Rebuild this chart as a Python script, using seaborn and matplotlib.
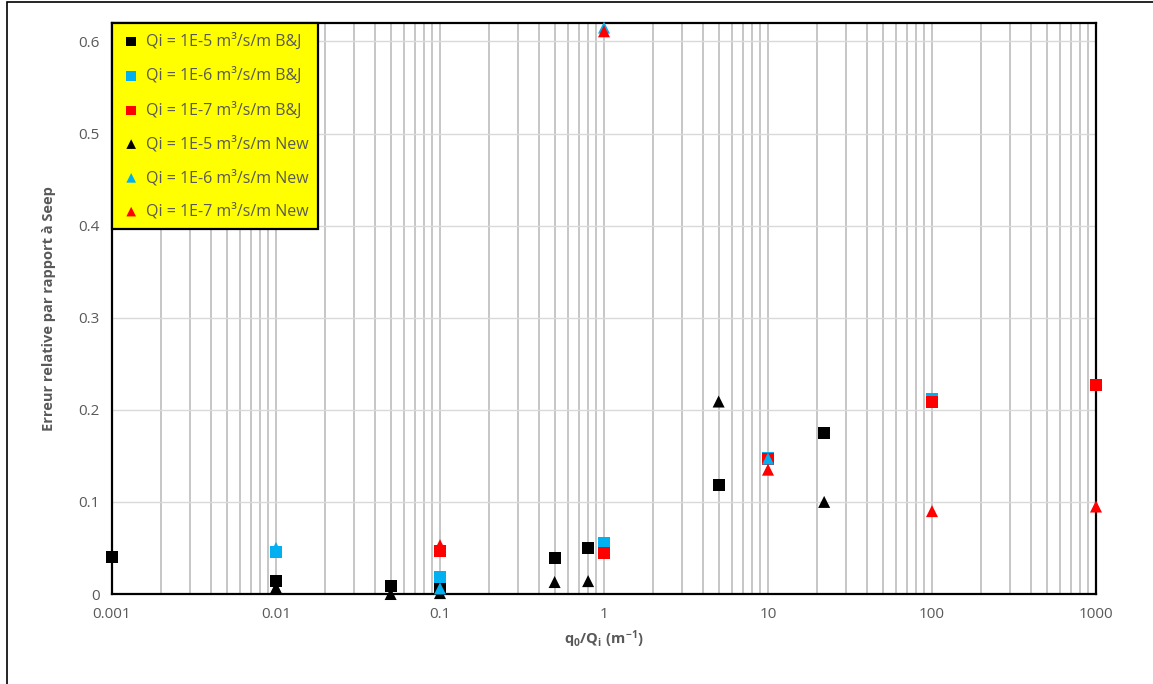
import numpy as np
import pandas as pd
import matplotlib
matplotlib.use("Agg")
import matplotlib.pyplot as plt
import matplotlib.patches as mpatches
from matplotlib.ticker import FixedLocator, NullFormatter
import seaborn as sns

# Relative error vs. q0/Qi for each injection rate and method
bj_1e5_x = [0.001, 0.01, 0.05, 0.1, 0.5, 0.8, 5, 22, 100]
bj_1e5_y = [0.040, 0.014, 0.009, 0.008, 0.039, 0.050, 0.118, 0.175, 0.212]

bj_1e6_x = [0.01, 0.1, 1, 10, 100]
bj_1e6_y = [0.046, 0.018, 0.055, 0.148, 0.212]

bj_1e7_x = [0.1, 1, 10, 100, 1000]
bj_1e7_y = [0.047, 0.044, 0.147, 0.209, 0.227]

new_1e5_x = [0.001, 0.01, 0.05, 0.1, 0.5, 0.8, 5, 22]
new_1e5_y = [0.042, 0.007, 0.000, 0.001, 0.013, 0.014, 0.209, 0.100]

new_1e6_x = [0.01, 0.1, 1, 10]
new_1e6_y = [0.050, 0.006, 0.615, 0.147]

new_1e7_x = [0.1, 1, 10, 100, 1000]
new_1e7_y = [0.053, 0.611, 0.135, 0.090, 0.095]

labels = [
    "Qi = 1E-5 m³/s/m B&J",
    "Qi = 1E-6 m³/s/m B&J",
    "Qi = 1E-7 m³/s/m B&J",
    "Qi = 1E-5 m³/s/m New",
    "Qi = 1E-6 m³/s/m New",
    "Qi = 1E-7 m³/s/m New",
]
x_ticks = [0.001, 0.01, 0.1, 1, 10, 100, 1000]
x_tick_labels = ["0.001", "0.01", "0.1", "1", "10", "100", "1000"]
y_ticks = [0, 0.1, 0.2, 0.3, 0.4, 0.5, 0.6]
y_tick_labels = ["0", "0.1", "0.2", "0.3", "0.4", "0.5", "0.6"]

sns.set_style("white")
plt.rcParams["font.family"] = ["Open Sans", "DejaVu Sans"]
plt.rcParams["mathtext.fontset"] = "custom"
plt.rcParams["mathtext.rm"] = "Open Sans"
plt.rcParams["mathtext.bf"] = "Open Sans:bold"

TXT = "#595959"
BLACK = "#000000"
BLUE = "#00B0F0"
RED = "#FF0000"

fig = plt.figure(figsize=(11.53, 6.84), dpi=100)
ax = fig.add_axes([112 / 1153, 1 - 594 / 684, (1096 - 112) / 1153, (594 - 23) / 684])

series = [
    (bj_1e5_x, bj_1e5_y, "s", BLACK),
    (bj_1e6_x, bj_1e6_y, "s", BLUE),
    (bj_1e7_x, bj_1e7_y, "s", RED),
    (new_1e5_x, new_1e5_y, "^", BLACK),
    (new_1e6_x, new_1e6_y, "^", BLUE),
    (new_1e7_x, new_1e7_y, "^", RED),
]

for i, ((xs, ys, mk, col), lab) in enumerate(zip(series, labels)):
    df = pd.DataFrame({"x": xs, "y": ys})
    sns.scatterplot(data=df, x="x", y="y", marker=mk, color=col, s=75,
                    edgecolor="none", linewidth=0, label=lab, ax=ax,
                    zorder=5 + i, clip_on=False)

ax.set_xscale("log")
ax.set_xlim(0.001, 1000)
ax.set_ylim(0, 0.62)

ax.xaxis.set_major_locator(FixedLocator(x_ticks))
ax.set_xticklabels(x_tick_labels)
minor = [m * 10.0 ** e for e in range(-3, 3) for m in range(2, 10)]
ax.xaxis.set_minor_locator(FixedLocator(minor))
ax.xaxis.set_minor_formatter(NullFormatter())
ax.set_yticks(y_ticks)
ax.set_yticklabels(y_tick_labels)

ax.grid(True, axis="x", which="both", color="#c6c6c6", linewidth=1.4)
ax.grid(True, axis="y", which="major", color="#d9d9d9", linewidth=1.0)
ax.set_axisbelow(True)

ax.tick_params(axis="both", which="both", length=0, labelsize=11,
               labelcolor=TXT, pad=9)
for sp in ax.spines.values():
    sp.set_visible(True)
    sp.set_color("black")
    sp.set_linewidth(1.6)

ax.set_xlabel(r"$\mathbf{q_0/Q_i\ (m^{-1})}$", fontsize=10.5, color=TXT, labelpad=5)
ax.set_ylabel("Erreur relative par rapport à Seep", fontsize=10.5, color=TXT,
              fontweight="bold", labelpad=16)

leg = ax.legend(loc="upper left", borderaxespad=0, fontsize=11.5,
                frameon=True, fancybox=False, facecolor="#FFFF00",
                edgecolor="black", framealpha=1, labelspacing=1.08,
                borderpad=0.6, handlelength=1.2, handletextpad=0.3,
                markerscale=0.8)
leg.get_frame().set_linewidth(1.6)
leg.set_zorder(20)
for t in leg.get_texts():
    t.set_color(TXT)

# outer frame of the figure
fig.patches.append(mpatches.Rectangle((7 / 1153, -0.1), 1.2, 1.1 - 1.5 / 684,
                                      transform=fig.transFigure, fill=False,
                                      edgecolor="black", linewidth=1.2))

fig.savefig("out.png", dpi=100)
